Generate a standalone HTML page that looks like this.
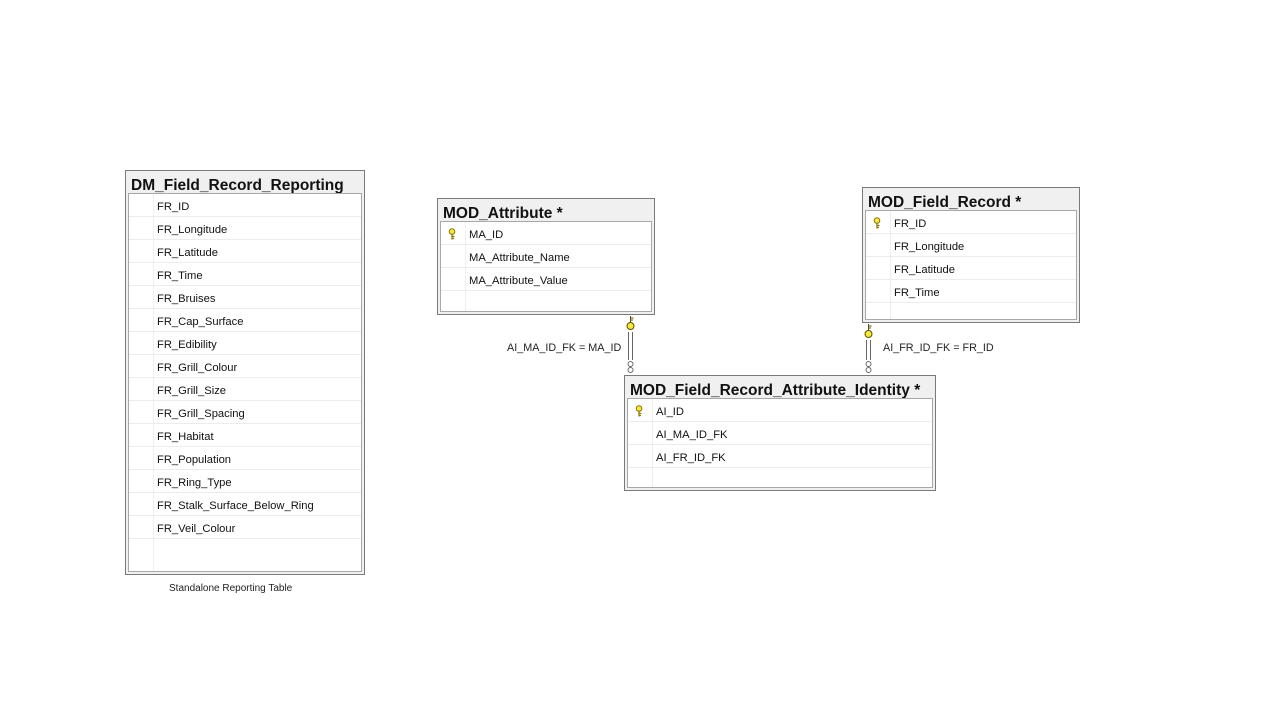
<!DOCTYPE html>
<html><head><meta charset="utf-8"><style>
body{margin:0;width:1280px;height:720px;background:#fff;position:relative;overflow:hidden;font-family:"Liberation Sans",sans-serif}
.t{position:absolute;border:1px solid #7a7a7a;background:#f0f0f0;box-sizing:border-box}
.t h{position:absolute;left:5px;top:6px;font-weight:bold;font-size:15.5px;color:#111;white-space:nowrap}
.in{position:absolute;left:2px;top:22px;right:2px;bottom:2px;background:#fff;border:1px solid #a8a8a8}
.in:before{content:"";position:absolute;left:24px;top:0;bottom:0;border-left:1px solid #efefef}
.r{position:relative;height:22px;border-bottom:1px solid #ececec;font-size:11.2px;line-height:26px;padding-left:28px;color:#111;white-space:nowrap}
.k{position:absolute;left:7px;top:6px;width:8px;height:12px}
.lbl{position:absolute;font-size:10.8px;color:#222;white-space:nowrap}
</style></head><body>

<div class="t" style="left:125px;top:170px;width:240px;height:405px"><h>DM_Field_Record_Reporting</h>
<div class="in">
<div class="r">FR_ID</div><div class="r">FR_Longitude</div><div class="r">FR_Latitude</div><div class="r">FR_Time</div><div class="r">FR_Bruises</div><div class="r">FR_Cap_Surface</div><div class="r">FR_Edibility</div><div class="r">FR_Grill_Colour</div><div class="r">FR_Grill_Size</div><div class="r">FR_Grill_Spacing</div><div class="r">FR_Habitat</div><div class="r">FR_Population</div><div class="r">FR_Ring_Type</div><div class="r">FR_Stalk_Surface_Below_Ring</div><div class="r">FR_Veil_Colour</div>
</div></div>
<div class="lbl" style="left:169px;top:583px;font-size:10px">Standalone Reporting Table</div>

<svg width="0" height="0" style="position:absolute"><defs>
<symbol id="key" viewBox="0 0 8 12"><circle cx="4" cy="3.5" r="2.8" fill="#f5e642" stroke="#8a7a00" stroke-width="1"/><path d="M4 6v5.5M4 8.5h2.5M4 10.5h2" stroke="#8a7a00" stroke-width="1.3" fill="none"/></symbol>
</defs></svg>

<div class="t" style="left:437px;top:198px;width:218px;height:117px"><h>MOD_Attribute *</h>
<div class="in">
<div class="r"><svg class="k"><use href="#key"/></svg>MA_ID</div><div class="r">MA_Attribute_Name</div><div class="r">MA_Attribute_Value</div>
</div></div>

<div class="t" style="left:862px;top:187px;width:218px;height:136px"><h>MOD_Field_Record *</h>
<div class="in">
<div class="r"><svg class="k"><use href="#key"/></svg>FR_ID</div><div class="r">FR_Longitude</div><div class="r">FR_Latitude</div><div class="r">FR_Time</div>
</div></div>

<div class="t" style="left:624px;top:375px;width:312px;height:116px"><h>MOD_Field_Record_Attribute_Identity *</h>
<div class="in">
<div class="r"><svg class="k"><use href="#key"/></svg>AI_ID</div><div class="r">AI_MA_ID_FK</div><div class="r">AI_FR_ID_FK</div>
</div></div>

<svg style="position:absolute;left:0;top:0" width="1280" height="720">
<g fill="none" stroke="#666" stroke-width="1">
<path d="M628.5 332V360M632.5 332V360"/>
<path d="M866.5 340V360M870.5 340V360"/>
<circle cx="630.5" cy="364" r="2.5" fill="#fff"/><circle cx="630.5" cy="370" r="2.5" fill="#fff"/>
<circle cx="868.5" cy="364" r="2.5" fill="#fff"/><circle cx="868.5" cy="370" r="2.5" fill="#fff"/>
</g>
<g stroke="#5a5000" stroke-width="1">
<circle cx="630.5" cy="326" r="3.5" fill="#f5ea3a"/><path d="M630.5 316V322M630.5 318h3M630.5 320h2.5" fill="none"/>
<circle cx="868.5" cy="334" r="3.5" fill="#f5ea3a"/><path d="M868.5 324V330M868.5 326h3M868.5 328h2.5" fill="none"/>
</g>
</svg>
<div class="lbl" style="left:507px;top:342px">AI_MA_ID_FK = MA_ID</div>
<div class="lbl" style="left:883px;top:342px">AI_FR_ID_FK = FR_ID</div>
</body></html>
